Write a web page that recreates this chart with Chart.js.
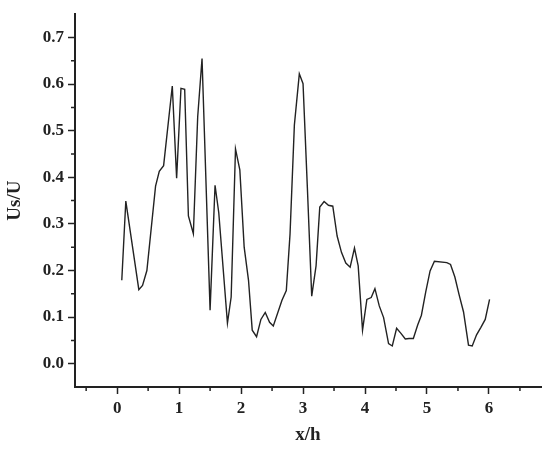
<!DOCTYPE html>
<html>
<head>
<meta charset="utf-8">
<script src="https://cdn.jsdelivr.net/npm/chart.js@4/dist/chart.umd.min.js"></script>
<style>
  html, body { margin: 0; padding: 0; background: #fff; }
  #wrap { width: 550px; height: 450px; }
</style>
</head>
<body>
<div id="wrap"><canvas id="chart"></canvas></div>
<script>
// ===== DATA =====
const xh = [0.075, 0.14, 0.35, 0.41, 0.48, 0.62, 0.68, 0.75, 0.89, 0.96,
            1.03, 1.09, 1.15, 1.23, 1.30, 1.37, 1.50, 1.58, 1.64, 1.78,
            1.84, 1.91, 1.98, 2.05, 2.12, 2.18, 2.25, 2.32, 2.39, 2.46,
            2.52, 2.66, 2.73, 2.79, 2.86, 2.94, 3.00, 3.07, 3.14, 3.21,
            3.27, 3.34, 3.41, 3.48, 3.55, 3.62, 3.69, 3.76, 3.83, 3.89,
            3.96, 4.03, 4.10, 4.16, 4.23, 4.30, 4.38, 4.44, 4.51, 4.58,
            4.65, 4.71, 4.78, 4.85, 4.91, 4.98, 5.05, 5.12, 5.32, 5.38,
            5.45, 5.52, 5.59, 5.67, 5.73, 5.80, 5.87, 5.94, 6.01];
const usU = [0.179, 0.349, 0.159, 0.168, 0.200, 0.381, 0.413, 0.425, 0.596, 0.398,
             0.591, 0.589, 0.317, 0.279, 0.530, 0.655, 0.115, 0.383, 0.324, 0.087,
             0.143, 0.461, 0.416, 0.250, 0.179, 0.072, 0.058, 0.095, 0.110, 0.089,
             0.081, 0.136, 0.157, 0.278, 0.512, 0.622, 0.601, 0.377, 0.145, 0.210,
             0.336, 0.348, 0.340, 0.338, 0.274, 0.239, 0.216, 0.207, 0.248, 0.210,
             0.072, 0.138, 0.142, 0.161, 0.124, 0.099, 0.043, 0.038, 0.076, 0.065,
             0.053, 0.054, 0.054, 0.083, 0.104, 0.154, 0.199, 0.220, 0.217, 0.213,
             0.186, 0.147, 0.111, 0.040, 0.038, 0.062, 0.078, 0.095, 0.138];

const xTicks = [0, 1, 2, 3, 4, 5, 6];
const xMinor = [-0.5, 0.5, 1.5, 2.5, 3.5, 4.5, 5.5, 6.5];
const yTicks = [0.0, 0.1, 0.2, 0.3, 0.4, 0.5, 0.6, 0.7];
const yMinor = [0.05, 0.15, 0.25, 0.35, 0.45, 0.55, 0.65];

const INK = '#222';
const FONT = 'Liberation Serif';

// short minor ticks, drawn outside the axes
const minorTicks = {
  id: 'minorTicks',
  afterDraw(chart) {
    const { ctx, scales: { x, y } } = chart;
    ctx.save();
    ctx.strokeStyle = INK;
    ctx.lineWidth = 1.5;
    ctx.beginPath();
    xMinor.forEach(v => {
      const px = x.getPixelForValue(v);
      ctx.moveTo(px, y.bottom);
      ctx.lineTo(px, y.bottom + 4);
    });
    yMinor.forEach(v => {
      const py = y.getPixelForValue(v);
      ctx.moveTo(x.left, py);
      ctx.lineTo(x.left - 4, py);
    });
    ctx.stroke();
    ctx.restore();
  }
};

new Chart(document.getElementById('chart'), {
  type: 'scatter',
  data: {
    datasets: [{
      data: xh.map((v, i) => ({ x: v, y: usU[i] })),
      showLine: true,
      borderColor: INK,
      borderWidth: 1.4,
      pointRadius: 0,
      tension: 0,
      fill: false
    }]
  },
  options: {
    responsive: true,
    maintainAspectRatio: false,
    animation: false,
    layout: { padding: { top: 13, right: 9, left: 0, bottom: 0 } },
    plugins: { legend: { display: false }, tooltip: { enabled: false } },
    scales: {
      x: {
        type: 'linear',
        min: -0.68, max: 6.84,
        afterBuildTicks: s => { s.ticks = xTicks.map(v => ({ value: v })); },
        afterFit: s => { s.height = 63; },
        border: { display: true, color: INK, width: 2 },
        grid: { drawOnChartArea: false, drawTicks: true, tickLength: 7, tickWidth: 1.5, tickColor: INK },
        ticks: { color: INK, padding: 4, font: { family: FONT, size: 17, weight: 'bold' },
                 callback: v => String(v) },
        title: { display: true, text: 'x/h', color: INK, font: { family: FONT, size: 19, weight: 'bold' } }
      },
      y: {
        type: 'linear',
        min: -0.05, max: 0.75,
        afterBuildTicks: s => { s.ticks = yTicks.map(v => ({ value: v })); },
        afterFit: s => { s.width = 75; },
        border: { display: true, color: INK, width: 2 },
        grid: { drawOnChartArea: false, drawTicks: true, tickLength: 7, tickWidth: 1.5, tickColor: INK },
        ticks: { color: INK, padding: 4, font: { family: FONT, size: 17, weight: 'bold' },
                 callback: v => Number(v).toFixed(1) },
        title: { display: true, text: 'Us/U', color: INK, font: { family: FONT, size: 19, weight: 'bold' } }
      }
    }
  },
  plugins: [minorTicks]
});
</script>
</body>
</html>
